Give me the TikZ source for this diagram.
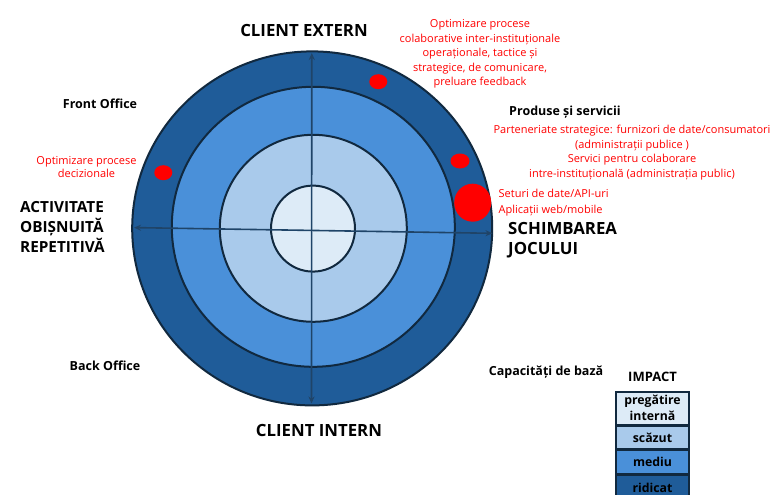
\documentclass[tikz,border=0pt]{standalone}
\usepackage{fontspec}
\setmainfont{Open Sans}
\usetikzlibrary{arrows.meta,shapes.geometric}
\definecolor{ridicat}{HTML}{1F5C99}
\definecolor{mediu}{HTML}{4A90D9}
\definecolor{scazut}{HTML}{A9CAEB}
\definecolor{pregatire}{HTML}{DDEBF7}
\definecolor{rim}{HTML}{11293F}
\definecolor{axisc}{HTML}{1F4468}
\definecolor{redc}{HTML}{FF0000}
\begin{document}
\begin{tikzpicture}[x=1pt,y=-1pt,
  ring/.style={ellipse,draw=rim,line width=2pt,inner sep=0pt},
  axisline/.style={draw=axisc,line width=1.6pt,{Stealth[length=7pt,width=6pt]}-{Stealth[length=7pt,width=6pt]}},
  reddot/.style={ellipse,fill=redc,draw=none,inner sep=0pt},
  title/.style={font=\bfseries\fontsize{16.8}{20}\selectfont,align=left,inner sep=0pt},
  sidetitle/.style={font=\bfseries\fontsize{15.3}{20}\selectfont,align=left,inner sep=0pt},
  label/.style={font=\bfseries\fontsize{12.5}{14}\selectfont,inner sep=0pt},
  redtxt/.style={font=\fontsize{11}{14.6}\selectfont,text=redc,align=center,inner sep=0pt},
  legbox/.style={draw=rim,line width=1.5pt,minimum width=73pt,inner sep=0pt,align=center,font=\bfseries\fontsize{12.3}{16}\selectfont}]
\useasboundingbox (0,0) rectangle (776,495);
\fill[white] (0,0) rectangle (776,495);

% rings
\node[ring,fill=ridicat,minimum width=360pt,minimum height=354pt] (r4) at (312.2,228.4) {};
\node[ring,fill=mediu,minimum width=283pt,minimum height=280pt] (r3) at (313.3,226.8) {};
\node[ring,fill=scazut,minimum width=187pt,minimum height=187pt] (r2) at (313.3,228.3) {};
\node[ring,fill=pregatire,minimum width=84pt,minimum height=86pt] (r1) at (313,228.6) {};

% axes
\coordinate (L) at (134,227.6);
\coordinate (R) at (492.5,233.3);
\coordinate (T) at (311.8,53);
\coordinate (B) at (311.5,403.5);
\draw[axisline] (L) -- (R);
\draw[axisline] (B) -- (T);

% red dots
\node[reddot,minimum width=18pt,minimum height=15pt] (d1) at (378.3,81.7) {};
\node[reddot,minimum width=19pt,minimum height=15pt] (d2) at (460,161) {};
\node[reddot,minimum width=37pt,minimum height=38pt] (d3) at (472.7,202.7) {};
\node[reddot,minimum width=18pt,minimum height=15pt] (d4) at (163.3,172.7) {};

% axis titles
\node[title,anchor=center] (ce) at (304,30.5) {CLIENT EXTERN};
\node[title,anchor=center] (ci) at (319,430.5) {CLIENT INTERN};
\node[sidetitle,anchor=west] (act) at (20,226.7) {ACTIVITATE\\OBIȘNUITĂ\\REPETITIVĂ};
\node[title,anchor=west] (sch) at (508,240.5) {SCHIMBAREA\\JOCULUI};

% quadrant labels
\node[label] (fo) at (100,103.5) {Front Office};
\node[label] (bo) at (105,366) {Back Office};
\node[label] (cb) at (546,372) {Capacități de bază};
\node[label] (ps) at (565,111.7) {Produse și servicii};

% red texts
\node[redtxt,anchor=center] (t1) at (480,54) {Optimizare procese\\colaborative inter-instituționale\\operaționale, tactice și\\strategice, de comunicare,\\preluare feedback};
\node[redtxt,anchor=center] (t2) at (632,152.5) {Parteneriate strategice: furnizori de date/consumatori\\(administrații publice )\\Servici pentru colaborare\\intre-instituțională (administrația public)};
\node[redtxt,anchor=west,align=left,font=\fontsize{11}{15.7}\selectfont] (t3) at (498.5,202.5) {Seturi de date/API-uri\\Aplicații web/mobile};
\node[redtxt,anchor=center,font=\fontsize{11}{13.5}\selectfont] (t4) at (86.5,167) {Optimizare procese\\decizionale};

% legend
\node[label,font=\bfseries\fontsize{13}{14}\selectfont] (imp) at (652.5,377) {IMPACT};
\node[legbox,fill=pregatire,minimum height=32.5pt,anchor=north] (l1) at (652.5,391) {pregătire\\internă};
\node[legbox,fill=scazut,minimum height=23.4pt,anchor=north] (l2) at (l1.south) {scăzut};
\node[legbox,fill=mediu,minimum height=23.3pt,anchor=north] (l3) at (l2.south) {mediu};
\node[legbox,fill=ridicat,minimum height=25pt,anchor=north] (l4) at (l3.south) {ridicat};
\end{tikzpicture}
\end{document}
